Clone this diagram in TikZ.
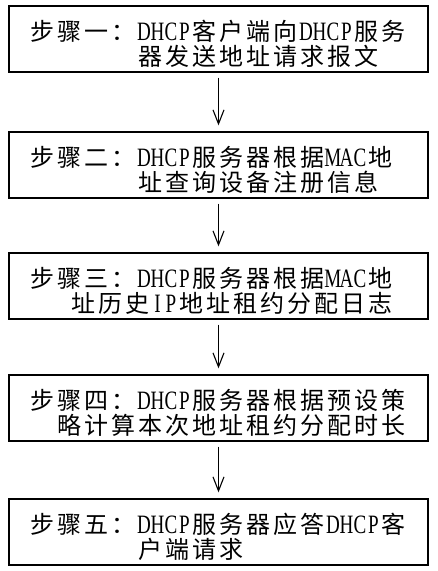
\documentclass[tikz,border=0pt]{standalone}
\usepackage{fontspec}
\usepackage{graphicx}
\usetikzlibrary{arrows.meta}
\setmainfont{Noto Sans CJK SC}
\newfontfamily\latf{Liberation Serif}
\makeatletter
% full-width grid cell for each CJK character
\newcommand\cj[1]{\cj@loop#1\@nil}
\def\cj@loop#1{\ifx#1\@nil\else\makebox[27pt]{#1}\expandafter\cj@loop\fi}
% half-width grid cell for each Latin letter
\newcommand\lt[1]{\lt@loop#1\@nil}
\def\lt@loop#1{\ifx#1\@nil\else\makebox[13.5pt]{\scalebox{0.72}[1]{\latf\fontsize{26.5pt}{26.5pt}\selectfont #1}}\expandafter\lt@loop\fi}
\makeatother
\tikzset{
  stepbox/.style={draw, line width=1.3pt, minimum width=419pt, minimum height=66pt, inner sep=0pt},
  txt/.style={anchor=base west, inner sep=0pt, font=\fontsize{24pt}{24pt}\selectfont},
  conn/.style={line width=1.1pt, -{Straight Barb[length=14pt,width=11pt,line width=1.1pt]}, shorten <=5pt, shorten >=6pt}
}
\begin{document}
\begin{tikzpicture}[x=1pt,y=1pt]
\useasboundingbox (0,0) rectangle (438,-571);
% boxes
\node[stepbox] (b1) at (218.5,-39) {};
\node[stepbox] (b2) at (218.5,-165) {};
\node[stepbox] (b3) at (218.5,-286) {};
\node[stepbox] (b4) at (218.5,-408) {};
\node[stepbox] (b5) at (218.5,-532) {};
% box 1
\node[txt] (t1a) at (29,-40) {\cj{步骤一：}\lt{DHCP}\cj{客户端向}\lt{DHCP}\cj{服务}};
\node[txt] (t1b) at (137,-65) {\cj{器发送地址请求报文}};
% box 2
\node[txt] (t2a) at (29,-166) {\cj{步骤二：}\lt{DHCP}\cj{服务器根据}\lt{MAC}\cj{地}};
\node[txt] (t2b) at (137,-191) {\cj{址查询设备注册信息}};
% box 3
\node[txt] (t3a) at (29,-287) {\cj{步骤三：}\lt{DHCP}\cj{服务器根据}\lt{MAC}\cj{地}};
\node[txt] (t3b) at (69.5,-312) {\cj{址历史}\lt{IP}\cj{地址租约分配日志}};
% box 4
\node[txt] (t4a) at (29,-409) {\cj{步骤四：}\lt{DHCP}\cj{服务器根据预设策}};
\node[txt] (t4b) at (56,-434) {\cj{略计算本次地址租约分配时长}};
% box 5
\node[txt] (t5a) at (29,-533) {\cj{步骤五：}\lt{DHCP}\cj{服务器应答}\lt{DHCP}\cj{客}};
\node[txt] (t5b) at (137,-558) {\cj{户端请求}};
% connectors
\draw[conn] (b1.south) -- (b2.north);
\draw[conn] (b2.south) -- (b3.north);
\draw[conn] (b3.south) -- (b4.north);
\draw[conn] (b4.south) -- (b5.north);
\end{tikzpicture}
\end{document}
